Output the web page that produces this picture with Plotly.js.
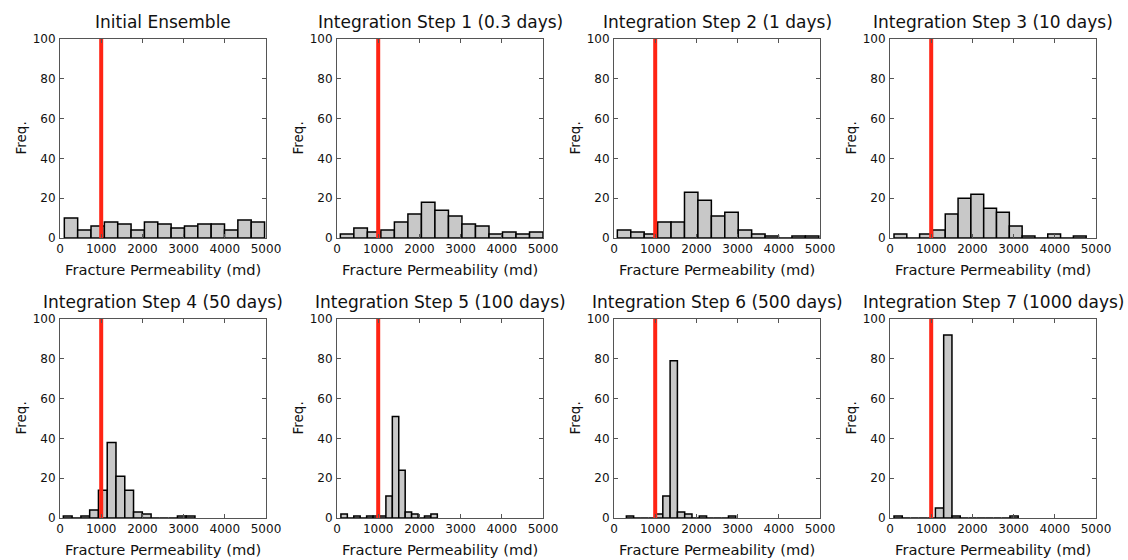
<!DOCTYPE html>
<html>
<head>
<meta charset="utf-8">
<script src="https://cdn.plot.ly/plotly-3.0.1.min.js"></script>
<style>html,body{margin:0;padding:0;background:#fff;}#chart{width:1128px;height:560px;}</style>
</head>
<body>
<div id="chart"></div>
<script>
// ---- data ----
const panelTitles = [
  "Initial Ensemble",
  "Integration Step 1 (0.3 days)",
  "Integration Step 2 (1 days)",
  "Integration Step 3 (10 days)",
  "Integration Step 4 (50 days)",
  "Integration Step 5 (100 days)",
  "Integration Step 6 (500 days)",
  "Integration Step 7 (1000 days)"
];
const xTitle = "Fracture Permeability (md)";
const yTitle = "Freq.";
const trueValue = 1000;
const xTicks = [0, 1000, 2000, 3000, 4000, 5000];
const yTicks = [0, 20, 40, 60, 80, 100];

// histogram bin start and bin width (md) for each panel
const binStart = [105, 81, 81, 97, 81, 95, 300, 97];
const binWidth = [324, 328, 326, 311, 213, 156, 177, 201];

const countsInitial = [10, 4, 6, 8, 7, 4, 8, 7, 5, 6, 7, 7, 4, 9, 8];
const countsStep1 = [2, 5, 3, 4, 8, 12, 18, 14, 11, 7, 6, 2, 3, 2, 3];
const countsStep2 = [4, 3, 2, 8, 8, 23, 19, 11, 13, 4, 2, 1, 0, 1, 1];
const countsStep3 = [2, 0, 2, 4, 12, 20, 22, 15, 13, 6, 1, 0, 2, 0, 1];
const countsStep4 = [1, 0, 1, 4, 14, 38, 21, 14, 3, 2, 0, 0, 0, 1, 1];
const countsStep5 = [2, 0, 1, 0, 1, 1, 1, 11, 51, 24, 3, 2, 0, 1, 2];
const countsStep6 = [1, 0, 0, 0, 2, 11, 79, 3, 2, 0, 1, 0, 0, 0, 1];
const countsStep7 = [1, 0, 0, 0, 0, 5, 92, 1, 0, 0, 0, 0, 0, 0, 1];
const allCounts = [countsInitial, countsStep1, countsStep2, countsStep3,
                   countsStep4, countsStep5, countsStep6, countsStep7];

// ---- layout geometry (pixels) ----
const W = 1128, H = 560;
const colLeft = [60, 337, 614, 890];
const plotW = 206;
const rowTop = [39, 319];
const plotH = 199;

const FONT = "DejaVu Sans, Verdana, sans-serif";
const traces = [];
const layout = {
  width: W, height: H,
  margin: {l: 0, r: 0, t: 0, b: 0},
  paper_bgcolor: "#ffffff",
  plot_bgcolor: "#ffffff",
  showlegend: false,
  bargap: 0,
  font: {family: FONT, color: "#111"},
  annotations: []
};

for (let p = 0; p < 8; p++) {
  const r = Math.floor(p / 4), c = p % 4;
  const ax = p === 0 ? "" : String(p + 1);
  const xa = "x" + ax, ya = "y" + ax;
  const L = colLeft[c], T = rowTop[r];
  const counts = allCounts[p];
  const centers = counts.map((_, i) => binStart[p] + (i + 0.5) * binWidth[p]);

  traces.push({
    type: "bar", x: centers, y: counts, width: binWidth[p],
    xaxis: xa, yaxis: ya,
    marker: {color: "#c8c8c8", line: {color: "#000", width: 1.5}},
    hoverinfo: "x+y"
  });
  traces.push({
    type: "scatter", mode: "lines",
    x: [trueValue, trueValue], y: [yTicks[0], yTicks[yTicks.length - 1]],
    xaxis: xa, yaxis: ya,
    line: {color: "#ff2414", width: 4},
    hoverinfo: "skip"
  });

  const axCommon = {
    showgrid: false, zeroline: false, showline: true,
    linecolor: "#555", linewidth: 1, mirror: "allticks",
    ticks: "inside", ticklen: 4, tickcolor: "#555", tickwidth: 1,
    tickfont: {family: FONT, size: 12, color: "#111"}, fixedrange: true
  };
  layout["xaxis" + ax] = Object.assign({}, axCommon, {
    domain: [L / W, (L + plotW) / W],
    anchor: ya, range: [0, 5000], tickvals: xTicks, ticktext: xTicks.map(String)
  });
  layout["yaxis" + ax] = Object.assign({}, axCommon, {
    domain: [1 - (T + plotH) / H, 1 - T / H],
    anchor: xa, range: [0, 100], tickvals: yTicks, ticktext: yTicks.map(String),
    ticklabelstandoff: 1
  });

  // panel title
  layout.annotations.push({
    text: panelTitles[p], xref: "paper", yref: "paper",
    x: (L + plotW / 2) / W, y: 1 - (T - 17) / H,
    xanchor: "center", yanchor: "middle", showarrow: false,
    font: {family: FONT, size: 17, color: "#111"}
  });
  // x axis title
  layout.annotations.push({
    text: xTitle, xref: "paper", yref: "paper",
    x: (L + plotW / 2) / W, y: 1 - (T + plotH + 31) / H,
    xanchor: "center", yanchor: "middle", showarrow: false,
    font: {family: FONT, size: 14.7, color: "#111"}
  });
  // y axis title
  layout.annotations.push({
    text: yTitle, xref: "paper", yref: "paper",
    x: (L - 40) / W, y: 1 - (T + plotH / 2) / H,
    xanchor: "center", yanchor: "middle", showarrow: false, textangle: -90,
    font: {family: FONT, size: 13.5, color: "#111"}
  });
}

Plotly.newPlot("chart", traces, layout, {displayModeBar: false, staticPlot: true});
</script>
</body>
</html>
